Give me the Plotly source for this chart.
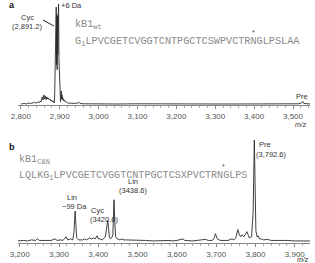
import plotly.graph_objects as go

W, H = 315, 263

# ---- Panel a spectrum (m/z, relative intensity %) ----
mz_a = [2800, 2810, 2815, 2820, 2825, 2830, 2835, 2840, 2845, 2848, 2850, 2852,
        2855, 2857, 2859, 2861, 2863, 2865, 2867, 2869, 2871, 2873, 2875, 2877,
        2879, 2881, 2883, 2885, 2886, 2887, 2888, 2889, 2890, 2891, 2891.7, 2892.5,
        2893.3, 2894, 2895, 2896, 2897, 2898, 2899, 2900, 2901, 2902, 2903, 2904,
        2905, 2906, 2907, 2908, 2910, 2912, 2914, 2917, 2920, 2925, 2930, 2940,
        2950, 2952, 2960, 2980, 3000, 3050, 3100, 3150, 3200, 3250, 3300, 3350,
        3400, 3450, 3500, 3515, 3522, 3525, 3528, 3535, 3544]
int_a = [1, 1.5, 1, 2, 1.5, 2, 2.5, 2, 3, 2.5, 4, 3,
         8, 5, 10, 6, 9, 5, 8, 6, 7, 5, 6, 4,
         5, 3, 4, 3, 2, 10, 50, 30, 85, 97, 40, 90,
         35, 88, 50, 95, 100, 45, 25, 8, 4, 3, 8, 14,
         6, 10, 5, 7, 4, 5, 3, 3, 2, 2, 1.5, 1.5,
         2.5, 1.5, 1.2, 1, 1, 1, 1.2, 1, 1, 1.2, 1, 1,
         1.2, 1, 1, 1.2, 2, 3.5, 1.5, 1, 1]

# ---- Panel b spectrum ----
mz_b = [3195, 3210, 3220, 3230, 3240, 3245, 3250, 3260, 3270, 3280, 3290, 3295,
        3305, 3310, 3318, 3322, 3330, 3335, 3338, 3341, 3343, 3345, 3350, 3360,
        3365, 3370, 3378, 3382, 3388, 3392, 3397, 3400, 3405, 3410, 3418, 3421,
        3424, 3426, 3428, 3431, 3434, 3437, 3440, 3442, 3444, 3448, 3455, 3460,
        3465, 3470, 3480, 3490, 3500, 3520, 3540, 3560, 3580, 3590, 3600, 3615,
        3620, 3640, 3660, 3672, 3680, 3690, 3695, 3698, 3700, 3703, 3710, 3720,
        3730, 3740, 3745, 3750, 3755, 3758, 3762, 3766, 3770, 3775, 3778, 3781,
        3784, 3790, 3794, 3797, 3799, 3801, 3804, 3807, 3810, 3815, 3820, 3830,
        3840, 3850, 3860, 3880, 3900, 3920, 3939]
int_b = [2, 2.5, 2, 3, 2.5, 4, 2.5, 2.5, 3, 2.5, 4, 2.5,
         3, 2.5, 6, 3, 4, 3, 10, 31, 18, 5, 3, 3,
         4, 3, 5, 4, 5, 4, 7, 4, 4, 3, 6, 14,
         22, 15, 6, 4, 5, 8, 42, 20, 6, 4, 3, 4,
         3, 3, 3, 2.5, 2.5, 2.5, 2, 2.5, 2.5, 2, 2.5, 4,
         2.5, 2, 2.5, 3.5, 2.5, 2.5, 5, 9, 7, 4, 2.5, 2.5,
         2.5, 4, 3, 5, 13, 9, 6, 8, 6, 9, 11, 8,
         5, 6, 30, 100, 50, 12, 6, 7, 4, 4, 3, 3.5,
         2.5, 2.5, 3, 2.5, 2, 2, 2]

ticks_a = [2800, 2900, 3000, 3100, 3200, 3300, 3400, 3500]
ticks_b = [3200, 3300, 3400, 3500, 3600, 3700, 3800, 3900]
ticklabels_a = ["2,800", "2,900", "3,000", "3,100", "3,200", "3,300", "3,400", "3,500"]
ticklabels_b = ["3,200", "3,300", "3,400", "3,500", "3,600", "3,700", "3,800", "3,900"]

seq_a = "G<sub>1</sub>LPVCGETCVGGTCNTPGCTCSWPVCTRNGLPSLAA"
seq_b = "LQLKG<sub>1</sub>LPVCGETCVGGTCNTPGCTCSXPVCTRNGLPS"

LINE = "#2a2a2a"
TXT = "#333333"
SEQC = "#8a8a8a"

fig = go.Figure()
fig.add_trace(go.Scatter(x=mz_a, y=int_a, mode="lines", line=dict(color=LINE, width=0.9),
                         xaxis="x", yaxis="y", hoverinfo="skip"))
fig.add_trace(go.Scatter(x=mz_b, y=int_b, mode="lines", line=dict(color=LINE, width=0.9),
                         xaxis="x2", yaxis="y2", hoverinfo="skip"))

def xax(domain, rng, tv, tt, anchor):
    return dict(domain=domain, range=rng, anchor=anchor, tickvals=tv, ticktext=tt,
                showline=True, linecolor="#888", linewidth=1, ticks="outside",
                ticklen=3, tickcolor="#888", tickwidth=1, showgrid=False, zeroline=False,
                tickfont=dict(family="Liberation Sans", size=8, color="#555"),
                minor=dict(ticks="outside", dtick=20, ticklen=1.5, tickcolor="#aaa", showgrid=False),
                fixedrange=True)

def yax(domain, anchor):
    return dict(domain=domain, range=[0, 100], anchor=anchor, visible=False, fixedrange=True)

fig.update_layout(
    width=W, height=H, margin=dict(l=0, r=0, t=0, b=0),
    paper_bgcolor="white", plot_bgcolor="white", showlegend=False,
    xaxis=xax([10 / W, 310 / W], [2792, 3544], ticks_a, ticklabels_a, "y"),
    yaxis=yax([1 - 105 / H, 1 - 4 / H], "x"),
    xaxis2=xax([10 / W, 310 / W], [3195, 3939], ticks_b, ticklabels_b, "y2"),
    yaxis2=yax([1 - 243 / H, 1 - 140 / H], "x2"),
)

def txt(px, py, s, size=7.5, color=TXT, family="Liberation Sans", xanchor="center"):
    fig.add_annotation(x=px / W, y=1 - py / H, xref="paper", yref="paper", text=s,
                       showarrow=False, xanchor=xanchor, yanchor="middle",
                       font=dict(family=family, size=size, color=color))

# Panel letters
txt(4, 5, "<b>a</b>", size=9, color="#111")
txt(4, 147, "<b>b</b>", size=9, color="#111")

# Panel a labels
txt(20, 17, "Cyc")
txt(20, 27, "(2,891.2)")
txt(52, 6, "+6 Da", xanchor="left")
txt(302, 96, "Pre")
txt(301, 124, "<i>m/z</i>", size=7)
fig.add_shape(type="line", xref="paper", yref="paper", x0=36 / W, y0=1 - 20 / H,
              x1=47 / W, y1=1 - 26 / H, line=dict(color="#222", width=1))
txt(67, 25, "kB1<sub>wt</sub>", size=10.2, color=SEQC, family="Liberation Mono", xanchor="left")
txt(67, 42, seq_a, size=10.2, color=SEQC, family="Liberation Mono", xanchor="left")
txt(252, 32, "*", size=7, color="#444")

# Panel b labels
txt(9, 160, "kB1<sub>C&amp;N</sub>", size=10.1, color=SEQC, family="Liberation Mono", xanchor="left")
txt(9, 176, seq_b, size=10.1, color=SEQC, family="Liberation Mono", xanchor="left")
txt(221, 166, "*", size=7, color="#444")
txt(264, 144, "Pre")
txt(270, 154, "(3,792.6)")
txt(128, 181, "Lin")
txt(128, 190, "(3438.6)")
txt(66, 197, "Lin")
txt(68, 206, "\u221299 Da")
txt(92, 210, "Cyc")
txt(98, 219, "(3420.6)")
txt(303, 259, "<i>m/z</i>", size=7)

fig.write_html("out.html")
